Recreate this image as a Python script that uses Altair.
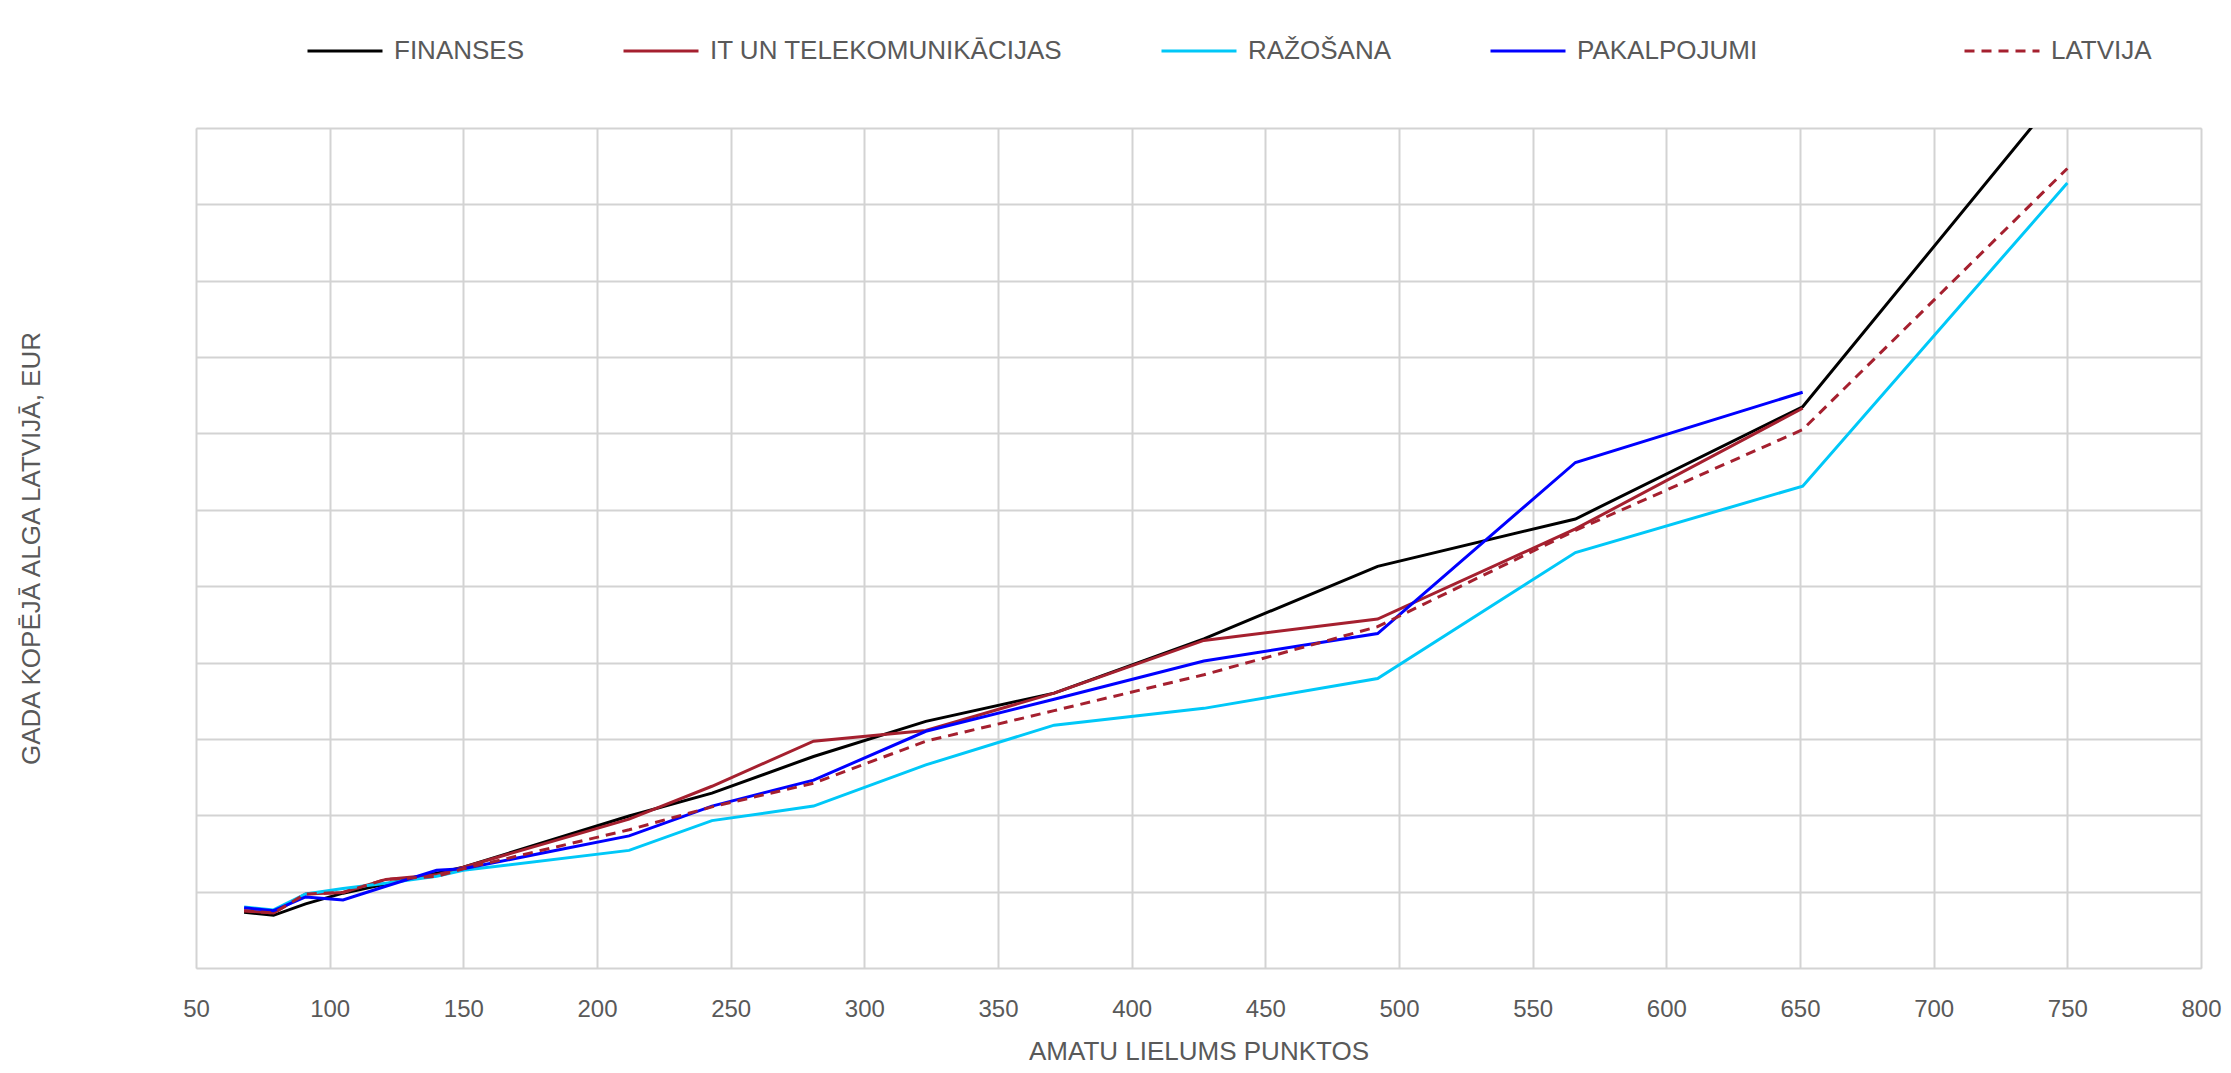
import altair as alt
import pandas as pd

# Job size points (x) and annual total pay (EUR) by sector
points = [68, 79, 91, 105, 121, 140, 150, 212, 243, 281, 323, 371, 427, 492, 566, 651, 750]

finanses = [7300, 6900, 8400, 9800, 11000, 12400, 13200, 19900, 22900, 27700, 32300, 36000, 43100, 52600, 58800, 73500, 115800]
it_telekom = [7500, 7200, 9700, 9900, 11600, 12200, 13200, 19500, 23800, 29700, 31100, 36000, 42900, 45700, 57500, 73300, None]
razosana = [8000, 7600, 9700, 10400, 11100, 12000, 12800, 15400, 19300, 21200, 26600, 31800, 34000, 37900, 54400, 63100, 102800]
pakalpojumi = [7900, 7500, 9300, 8900, 10700, 12800, 13000, 17300, 21200, 24600, 31000, 35200, 40200, 43800, 66200, 75400, None]
latvija = [7500, 7200, 9700, 9900, 11600, 12000, 13000, 18100, 21100, 24200, 29700, 33700, 38400, 44700, 57300, 70500, 104700]

sector_names = ["FINANSES", "IT UN TELEKOMUNIKĀCIJAS", "RAŽOŠANA", "PAKALPOJUMI"]
sector_values = [finanses, it_telekom, razosana, pakalpojumi]
sector_colors = ["#000000", "#A5202F", "#00C8F8", "#0000FF"]
latvija_name = "LATVIJA"
latvija_color = "#A5202F"

x_ticks = list(range(50, 801, 50))
y_ticks = list(range(0, 110001, 10000))

rows = []
for name, vals in zip(sector_names, sector_values):
    for i, (p, v) in enumerate(zip(points, vals)):
        if v is not None:
            rows.append({"points": p, "alga": v, "series": name, "order": i})
df_sectors = pd.DataFrame(rows)
df_latvija = pd.DataFrame(
    {"points": points, "alga": latvija, "kopa": latvija_name, "order": list(range(len(points)))}
)

FONT = "Liberation Sans Narrow, Liberation Sans, Arial, sans-serif"
TXT = "#595959"


def make_legend(x, **kw):
    return alt.Legend(
        title=None,
        orient="none",
        direction="horizontal",
        legendX=x,
        legendY=-116,
        symbolType="stroke",
        symbolSize=5625,
        symbolStrokeWidth=3,
        labelFont=FONT,
        labelFontSize=26,
        labelColor=TXT,
        labelOffset=10,
        columnPadding=92,
        labelLimit=600,
        **kw,
    )


x_enc = alt.X(
    "points:Q",
    scale=alt.Scale(domain=[50, 800], nice=False, zero=False),
    axis=alt.Axis(
        values=x_ticks,
        title="AMATU LIELUMS PUNKTOS",
        titleFont=FONT,
        titleFontSize=26,
        titleFontWeight="normal",
        titleColor=TXT,
        titlePadding=17,
        labelFont=FONT,
        labelFontSize=24,
        labelColor=TXT,
        labelPadding=29,
        tickSize=0,
        domain=False,
        grid=True,
        gridColor="#D3D3D3",
        gridWidth=2,
        labelFlush=False,
    ),
)
y_enc = alt.Y(
    "alga:Q",
    scale=alt.Scale(domain=[0, 110000], nice=False),
    axis=alt.Axis(
        values=y_ticks,
        title="GADA KOPĒJĀ ALGA LATVIJĀ, EUR",
        titleFont=FONT,
        titleFontSize=26,
        titleFontWeight="normal",
        titleColor=TXT,
        titlePadding=152,
        labels=False,
        ticks=False,
        domain=False,
        grid=True,
        gridColor="#D3D3D3",
        gridWidth=2,
    ),
)

sectors = (
    alt.Chart(df_sectors)
    .mark_line(clip=True, strokeWidth=3)
    .encode(
        x=x_enc,
        y=y_enc,
        color=alt.Color(
            "series:N",
            scale=alt.Scale(domain=sector_names, range=sector_colors),
            sort=sector_names,
            legend=make_legend(110),
        ),
        detail="series:N",
        order="order:Q",
    )
)

latvija_line = (
    alt.Chart(df_latvija)
    .mark_line(clip=True, strokeWidth=3, color=latvija_color)
    .encode(
        x=x_enc,
        y=y_enc,
        strokeDash=alt.StrokeDash(
            "kopa:N",
            scale=alt.Scale(domain=[latvija_name], range=[[10, 7]]),
            legend=make_legend(1767, symbolStrokeColor=latvija_color),
        ),
        order="order:Q",
    )
)

chart = (
    alt.layer(sectors, latvija_line)
    .resolve_legend(color="independent", strokeDash="independent")
    .properties(
        width=2005,
        height=840,
        autosize=alt.AutoSizeParams(type="none"),
        padding={"left": 188, "top": 120, "right": 22, "bottom": 97},
    )
    .configure_view(stroke="#C4C4C4", strokeWidth=3)
    .configure(background="white")
)

chart.save("out.html", embed_options={"renderer": "svg", "actions": False})
